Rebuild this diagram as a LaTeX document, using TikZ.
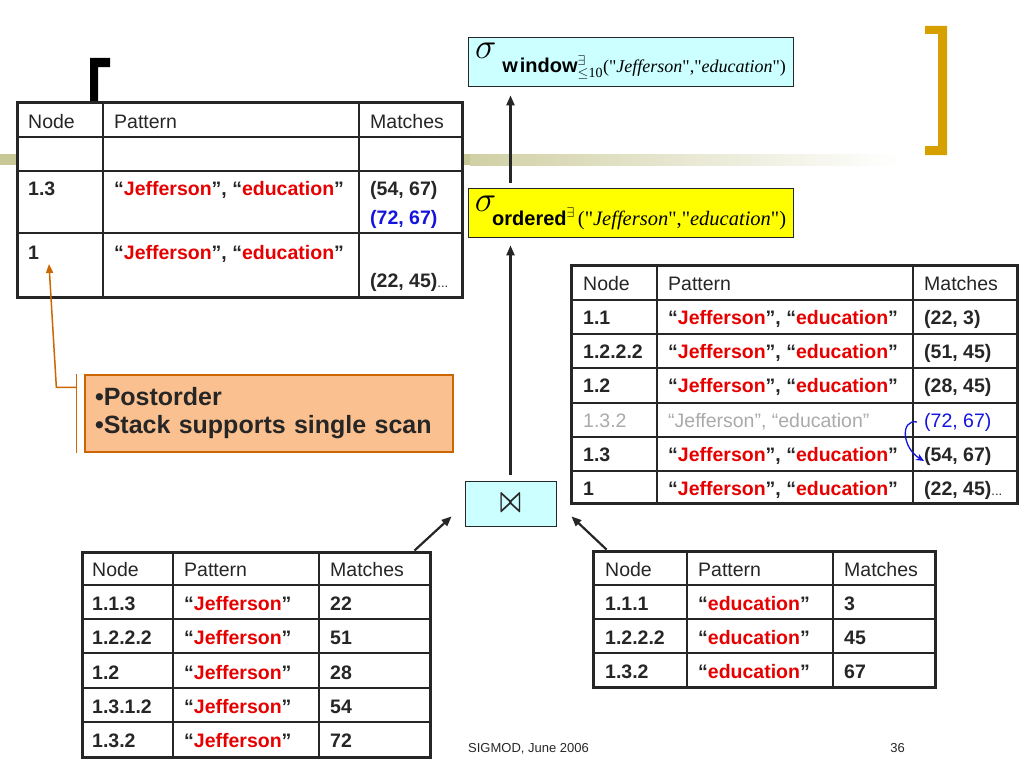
\RequirePackage{fix-cm}
\documentclass[tikz,border=0pt]{standalone}
\usepackage{amsmath}
\usepackage{fontspec}
\setmainfont{Liberation Sans}
\newfontfamily\timesfont{Liberation Serif}
\usetikzlibrary{
    arrows.meta,
    positioning,
    calc
}
\definecolor{ink}{RGB}{38,38,38}
\definecolor{wred}{RGB}{230,0,0}
\definecolor{mblue}{RGB}{20,20,220}
\definecolor{paleCyan}{RGB}{204,255,255}
\definecolor{hiYellow}{RGB}{255,255,0}
\definecolor{peach}{RGB}{251,192,143}
\definecolor{calloutEdge}{RGB}{204,102,0}
\definecolor{goldbar}{RGB}{214,160,0}
\definecolor{bandc}{RGB}{200,200,150}
\definecolor{fadedgray}{RGB}{170,170,170}
\tikzset{
  tabframe/.style = {draw=ink, line width=3pt, fill=white, inner sep=0pt},
  tabline/.style  = {draw=ink, line width=1.4pt},
  cell/.style     = {anchor=base west, inner sep=0pt, text=ink,
                     font=\fontsize{19.5}{23}\selectfont},
  bcell/.style    = {cell, font=\fontsize{19.5}{23}\selectfont\bfseries},
  gcell/.style    = {cell, text=fadedgray},
  opbox/.style    = {draw=ink, line width=0.8pt, inner sep=0pt,
                     minimum width=325pt, minimum height=49pt},
  arr/.style      = {-{Triangle[length=10pt,width=8pt]}, line width=2.2pt, ink},
  foot/.style     = {inner sep=0pt, text=ink, font=\fontsize{13}{15}\selectfont}
}
\newcommand{\jeff}{“\textcolor{wred}{Jefferson}”}
\newcommand{\educ}{“\textcolor{wred}{education}”}
\newcommand{\sigfont}{\fontsize{36}{36}\selectfont}
\newcommand{\opfont}{\fontsize{20}{20}\selectfont\bfseries}
\newcommand{\argfont}[1]{\fontsize{#1}{#1}\selectfont\timesfont}
\newcommand{\smalldots}{\textmd{\fontsize{13}{13}\selectfont...}}

\begin{document}
\begin{tikzpicture}[x=1pt, y=-1pt]
\useasboundingbox (0,0) rectangle (1024,768);

%% background band and brackets
\fill[bandc] (0,154) rectangle (470,165);
\shade[left color=bandc!85, right color=white] (470,154) rectangle (900,165);
\fill[black] (90,58) -- (110,58) -- (110,67) -- (98,67) -- (98,102) -- (90,102) -- cycle;
\fill[goldbar] (925,26) -- (947,26) -- (947,155) -- (925,155) -- (925,146)
  -- (938,146) -- (938,34) -- (925,34) -- cycle;

%% stack table (top left)
\node[tabframe, minimum width=445pt, minimum height=195pt] (lt) at (239.5,199.5) {};
\draw[tabline] (103,102) -- (103,297);
\draw[tabline] (359,102) -- (359,297);
\draw[tabline] (17,137) -- (462,137);
\draw[tabline] (17,171) -- (462,171);
\draw[tabline] (17,233) -- (462,233);
\node[cell]  (lt-h1) at (28,128)  {Node};
\node[cell]  (lt-h2) at (114,128) {Pattern};
\node[cell]  (lt-h3) at (370,128) {Matches};
\node[bcell] (lt-a1) at (28,195)  {1.3};
\node[bcell] (lt-a2) at (114,195) {\jeff, \educ};
\node[bcell] (lt-a3) at (370,195) {(54, 67)};
\node[bcell, text=mblue] (lt-a4) at (370,224) {(72, 67)};
\node[bcell] (lt-b1) at (28,259)  {1};
\node[bcell] (lt-b2) at (114,259) {\jeff, \educ};
\node[bcell] (lt-b3) at (370,287) {(22, 45)\smalldots};

%% result table (right)
\node[tabframe, minimum width=446pt, minimum height=238pt] (rt) at (794,384) {};
\draw[tabline] (657,265) -- (657,503);
\draw[tabline] (913,265) -- (913,503);
\draw[tabline] (571,300) -- (1017,300);
\draw[tabline] (571,334) -- (1017,334);
\draw[tabline] (571,368) -- (1017,368);
\draw[tabline] (571,403) -- (1017,403);
\draw[tabline] (571,437) -- (1017,437);
\draw[tabline] (571,471) -- (1017,471);
\node[cell]  (rt-h1) at (583,290) {Node};
\node[cell]  (rt-h2) at (668,290) {Pattern};
\node[cell]  (rt-h3) at (924,290) {Matches};
\node[bcell] (rt-a1) at (583,324) {1.1};
\node[bcell] (rt-a2) at (668,324) {\jeff, \educ};
\node[bcell] (rt-a3) at (924,324) {(22, 3)};
\node[bcell] (rt-b1) at (583,358) {1.2.2.2};
\node[bcell] (rt-b2) at (668,358) {\jeff, \educ};
\node[bcell] (rt-b3) at (924,358) {(51, 45)};
\node[bcell] (rt-c1) at (583,392) {1.2};
\node[bcell] (rt-c2) at (668,392) {\jeff, \educ};
\node[bcell] (rt-c3) at (924,392) {(28, 45)};
\node[gcell] (rt-d1) at (583,427) {1.3.2};
\node[gcell] (rt-d2) at (668,427) {“Jefferson”, “education”};
\node[cell, text=mblue] (rt-d3) at (924,427) {(72, 67)};
\node[bcell] (rt-e1) at (583,461) {1.3};
\node[bcell] (rt-e2) at (668,461) {\jeff, \educ};
\node[bcell] (rt-e3) at (924,461) {(54, 67)};
\node[bcell] (rt-f1) at (583,495) {1};
\node[bcell] (rt-f2) at (668,495) {\jeff, \educ};
\node[bcell] (rt-f3) at (924,495) {(22, 45)\smalldots};

%% Jefferson list (bottom left)
\node[tabframe, minimum width=348pt, minimum height=205pt] (lb) at (256,654.5) {};
\draw[tabline] (173,552) -- (173,757);
\draw[tabline] (319,552) -- (319,757);
\draw[tabline] (82,585) -- (430,585);
\draw[tabline] (82,619) -- (430,619);
\draw[tabline] (82,653) -- (430,653);
\draw[tabline] (82,688) -- (430,688);
\draw[tabline] (82,722) -- (430,722);
\node[cell]  (lb-h1) at (92,576)  {Node};
\node[cell]  (lb-h2) at (184,576) {Pattern};
\node[cell]  (lb-h3) at (330,576) {Matches};
\node[bcell] (lb-a1) at (92,610)  {1.1.3};
\node[bcell] (lb-a2) at (184,610) {\jeff};
\node[bcell] (lb-a3) at (330,610) {22};
\node[bcell] (lb-b1) at (92,644)  {1.2.2.2};
\node[bcell] (lb-b2) at (184,644) {\jeff};
\node[bcell] (lb-b3) at (330,644) {51};
\node[bcell] (lb-c1) at (92,679)  {1.2};
\node[bcell] (lb-c2) at (184,679) {\jeff};
\node[bcell] (lb-c3) at (330,679) {28};
\node[bcell] (lb-d1) at (92,713)  {1.3.1.2};
\node[bcell] (lb-d2) at (184,713) {\jeff};
\node[bcell] (lb-d3) at (330,713) {54};
\node[bcell] (lb-e1) at (92,747)  {1.3.2};
\node[bcell] (lb-e2) at (184,747) {\jeff};
\node[bcell] (lb-e3) at (330,747) {72};

%% education list (bottom right)
\node[tabframe, minimum width=342pt, minimum height=136pt] (rb) at (764,619) {};
\draw[tabline] (687,551) -- (687,687);
\draw[tabline] (833,551) -- (833,687);
\draw[tabline] (593,585) -- (935,585);
\draw[tabline] (593,619) -- (935,619);
\draw[tabline] (593,653) -- (935,653);
\node[cell]  (rb-h1) at (605,576) {Node};
\node[cell]  (rb-h2) at (698,576) {Pattern};
\node[cell]  (rb-h3) at (844,576) {Matches};
\node[bcell] (rb-a1) at (605,610) {1.1.1};
\node[bcell] (rb-a2) at (698,610) {\educ};
\node[bcell] (rb-a3) at (844,610) {3};
\node[bcell] (rb-b1) at (605,644) {1.2.2.2};
\node[bcell] (rb-b2) at (698,644) {\educ};
\node[bcell] (rb-b3) at (844,644) {45};
\node[bcell] (rb-c1) at (605,678) {1.3.2};
\node[bcell] (rb-c2) at (698,678) {\educ};
\node[bcell] (rb-c3) at (844,678) {67};

%% operators
\node[opbox, fill=paleCyan] (win) at (630.5,61.5)
  {\raisebox{14pt}{\sigfont$\sigma$}\hspace{6pt}{\opfont w\hspace{2pt}indow$^{\exists}_{\le\text{\mdseries\timesfont 10}}$}\argfont{18}("\textit{Jefferson}","\textit{education}")};
\node[opbox, fill=hiYellow] (ord) at (630.5,212.5)
  {\raisebox{14pt}{\sigfont$\sigma$}\hspace{-4pt}{\opfont ordered$^{\exists}$}\hspace{3pt}\argfont{20.5}("\textit{Jefferson}","\textit{education}")};
\node[draw=ink, line width=0.8pt, fill=paleCyan, minimum width=91pt, minimum height=45pt] (join)
  at (510.5,503.5) {\fontsize{22}{22}\selectfont\color{ink}\scalebox{1}[1.6]{\boldmath$\bowtie$}};

\draw[arr, shorten <=5pt, shorten >=9pt] (ord.north -| join.north) -- (win.south -| join.north);
\draw[arr, shorten <=6pt, shorten >=8pt] (join.north) -- (join.north |- ord.south);
\draw[arr] ([xshift=-17pt]lb.north east) -- ([xshift=-13pt,yshift=10pt]join.south west);
\draw[arr] ([xshift=15pt]rb.north west) -- ([xshift=15pt,yshift=10pt]join.south east);

%% moved match
\draw[mblue, line width=1.3pt, -{Stealth[length=8pt,width=7pt]}]
  ([xshift=-7pt]rt-d3.west) .. controls (900,419) and (902,448) .. ([yshift=-5pt]rt-e3.west);

%% callout
\node[draw=calloutEdge, line width=1.3pt, fill=peach, minimum width=368pt, minimum height=77pt,
  text width=348pt, inner xsep=10pt, align=left, text=ink,
  font=\fontsize{25}{28}\selectfont\bfseries] (note) at (269,413.5)
  {•Postorder\\•Stack supports single scan};
\coordinate (tip) at (49,264);
\draw[calloutEdge, line width=1.5pt] ([xshift=-8pt]note.north west) -- ([xshift=-8pt]note.south west);
\draw[calloutEdge, line width=1.5pt, -{Triangle[length=9pt,width=7pt]}]
  ([xshift=-8pt,yshift=-13pt]note.north west) -- ++(-20,0) -- (tip);

%% footer
\node[foot, anchor=base west] (date) at (468,752) {SIGMOD, June 2006};
\node[foot, anchor=base east] (pgnum) at (905,752) {36};
\end{tikzpicture}
\end{document}
